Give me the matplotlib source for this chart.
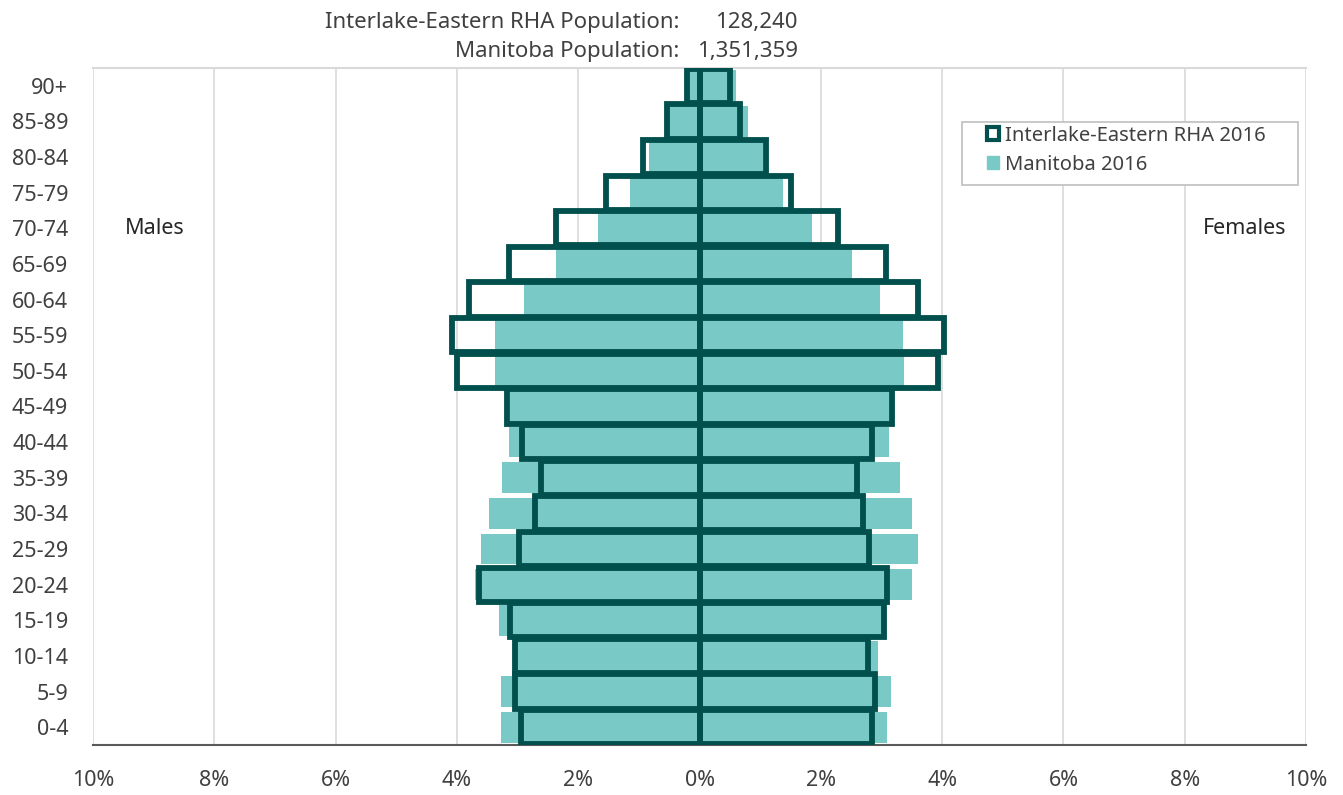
import matplotlib.pyplot as plt
import numpy as np
from matplotlib.patches import Patch, Rectangle

plt.rcParams['font.family'] = ['Noto Sans', 'DejaVu Sans']

ages = ['0-4', '5-9', '10-14', '15-19', '20-24', '25-29', '30-34', '35-39',
        '40-44', '45-49', '50-54', '55-59', '60-64', '65-69', '70-74',
        '75-79', '80-84', '85-89', '90+']

# percent of total population, bottom (0-4) to top (90+)
ie_male = [2.94, 3.05, 3.04, 3.12, 3.63, 2.97, 2.72, 2.62, 2.92, 3.17,
           4.00, 4.08, 3.80, 3.15, 2.36, 1.55, 0.94, 0.53, 0.20]
ie_female = [2.84, 2.89, 2.77, 3.04, 3.09, 2.80, 2.69, 2.59, 2.84, 3.18,
             3.93, 4.03, 3.60, 3.07, 2.28, 1.50, 1.10, 0.66, 0.50]
mb_male = [3.27, 3.28, 3.04, 3.30, 3.71, 3.60, 3.47, 3.25, 3.15, 3.13,
           3.37, 3.37, 2.89, 2.36, 1.68, 1.14, 0.83, 0.50, 0.20]
mb_female = [3.09, 3.15, 2.94, 3.03, 3.50, 3.60, 3.50, 3.30, 3.12, 3.13,
             3.37, 3.35, 2.97, 2.52, 1.86, 1.37, 1.04, 0.80, 0.60]

ie_pop = '128,240'
mb_pop = '1,351,359'

dark = '#02504d'
light = '#79c9c7'
txt = '#404040'
fs = 15.5

fig = plt.figure(figsize=(13.43, 7.95), dpi=100)
ax = fig.add_axes([0.0693, 0.0629, 0.9032, 0.8516])

y = np.arange(len(ages))

# Manitoba filled bars
ax.barh(y, -np.array(mb_male), height=0.86, color=light, zorder=2)
ax.barh(y, mb_female, height=0.86, color=light, zorder=2)

# Interlake-Eastern outline bars
ax.barh(y, -np.array(ie_male), height=0.96, facecolor='none',
        edgecolor=dark, linewidth=4.2, zorder=3)
ax.barh(y, ie_female, height=0.96, facecolor='none',
        edgecolor=dark, linewidth=4.2, zorder=3)

ax.set_xlim(-10, 10)
ax.set_ylim(-0.5, len(ages) - 0.5)
ticks = np.arange(-10, 11, 2)
ax.set_xticks(ticks)
ax.set_xticklabels([f'{abs(t)}%' for t in ticks], fontsize=fs, color=txt)
ax.set_yticks(y)
ax.set_yticklabels(ages, fontsize=fs, color=txt)
ax.tick_params(axis='y', length=0, pad=18)
ax.tick_params(axis='x', length=0, pad=18)

ax.grid(axis='x', color='#d9d9d9', linewidth=1.2, zorder=0)
ax.set_axisbelow(True)
for s in ['left', 'right', 'top']:
    ax.spines[s].set_visible(False)
ax.spines['bottom'].set_color('#595959')
ax.spines['bottom'].set_linewidth(1.5)
ax.plot([-10, 10], [len(ages) - 0.5] * 2, color='#d9d9d9', linewidth=1.5,
        clip_on=False, zorder=1)

ax.text(-9.47, 14, 'Males', fontsize=fs, color='#262626', va='center')
ax.text(9.68, 14, 'Females', fontsize=fs, color='#262626', va='center', ha='right')

fig.text(0.506, 0.972, 'Interlake-Eastern RHA Population:', fontsize=16,
         color=txt, ha='right', va='center')
fig.text(0.594, 0.972, ie_pop, fontsize=16, color=txt, ha='right', va='center')
fig.text(0.506, 0.935, 'Manitoba Population:', fontsize=16,
         color=txt, ha='right', va='center')
fig.text(0.594, 0.935, mb_pop, fontsize=16, color=txt, ha='right', va='center')

# legend with its own frame
handles = [Patch(facecolor='white', edgecolor=dark, linewidth=3),
           Patch(facecolor=light, edgecolor=light)]
leg = fig.legend(handles, ['Interlake-Eastern RHA 2016', 'Manitoba 2016'],
                 loc='upper left', bbox_to_anchor=(0.735, 0.842), fontsize=14.5,
                 frameon=False, handlelength=0.6, handleheight=0.6,
                 handletextpad=0.3, borderpad=0, labelspacing=0.45,
                 borderaxespad=0)
for t in leg.get_texts():
    t.set_color(txt)
fig.patches.append(Rectangle((0.7163, 0.7673), 0.2502, 0.0792,
                             transform=fig.transFigure, facecolor='white',
                             edgecolor='#bfbfbf', linewidth=1.2, zorder=4))
leg.set_zorder(5)

fig.savefig('out.png', dpi=100)
